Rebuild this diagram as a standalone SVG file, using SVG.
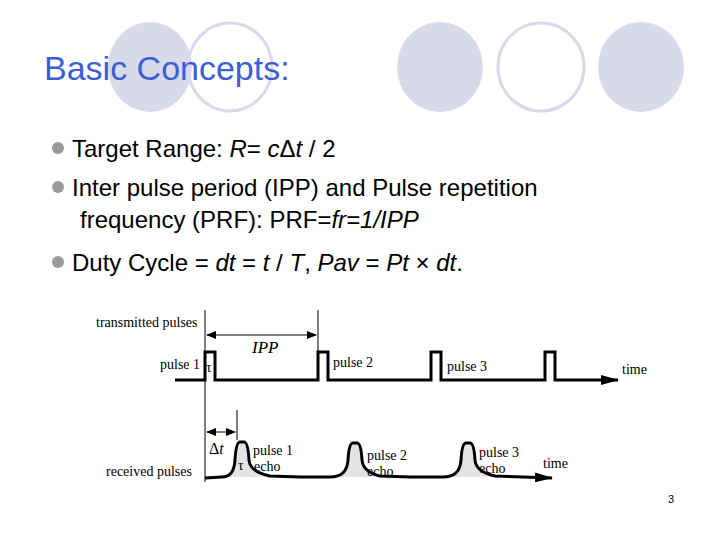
<svg xmlns="http://www.w3.org/2000/svg" width="720" height="540" viewBox="0 0 720 540">
<defs>
<marker id="ah" markerWidth="10" markerHeight="8" refX="9" refY="4" orient="auto-start-reverse" markerUnits="userSpaceOnUse"><path d="M0,0 L10,4 L0,8 Z" fill="#000"/></marker>
<marker id="big" markerWidth="18" markerHeight="10" refX="17" refY="5" orient="auto" markerUnits="userSpaceOnUse"><path d="M0,0 L18,5 L0,10 Z" fill="#000"/></marker>
</defs>
<style>
.fc{fill:#d9d9ec}
.oc{fill:none;stroke:#d9d9ec;stroke-width:3}
.t{font-family:"Liberation Sans",Arial,sans-serif;font-size:24px;fill:#000}
.s{font-family:"Liberation Serif","Times New Roman",serif;font-size:14px;fill:#000}
.w{fill:none;stroke:#000;stroke-width:3}
.thin{stroke:#000;stroke-width:1;fill:none}
</style>
<rect width="720" height="540" fill="#fff"/>
<g id="decor">
<ellipse class="fc" cx="150" cy="67" rx="42" ry="45"/>
<ellipse class="oc" cx="230" cy="67" rx="42" ry="44"/>
<ellipse class="fc" cx="440" cy="67" rx="43" ry="45"/>
<ellipse class="oc" cx="541" cy="67" rx="43" ry="44"/>
<ellipse class="fc" cx="641" cy="67" rx="43" ry="45"/>
</g>
<text x="44" y="80" font-family="Liberation Sans,Arial,sans-serif" font-size="34" fill="#3d5fd6">Basic Concepts:</text>
<g id="bullets" class="t">
<circle cx="58" cy="148" r="6" fill="#9a9a9a"/>
<text x="72" y="157">Target Range: <tspan font-style="italic">R</tspan>= <tspan font-style="italic">c</tspan>Δ<tspan font-style="italic">t</tspan> / 2</text>
<circle cx="58" cy="187" r="6" fill="#9a9a9a"/>
<text x="72" y="196">Inter pulse period (IPP) and Pulse repetition</text>
<text x="80" y="228">frequency (PRF): PRF=<tspan font-style="italic">fr=1/IPP</tspan></text>
<circle cx="58" cy="262" r="6" fill="#9a9a9a"/>
<text x="72" y="271">Duty Cycle = <tspan font-style="italic">dt</tspan> = <tspan font-style="italic">t</tspan> / <tspan font-style="italic">T</tspan>,  <tspan font-style="italic">Pav</tspan> = <tspan font-style="italic">Pt</tspan> × <tspan font-style="italic">dt</tspan>.</text>
</g>
<g id="connectors">
<path class="w" marker-end="url(#big)" d="M175,380 H205 V352 H215 V380 H318 V352 H328 V380 H431 V352 H441 V380 H545 V352 H555 V380 H618"/>
<line class="thin" x1="205" y1="310" x2="205" y2="482"/>
<line class="thin" x1="318" y1="310" x2="318" y2="352"/>
<line class="thin" x1="237" y1="410" x2="237" y2="440"/>
<line class="thin" x1="207" y1="335" x2="316" y2="335" marker-start="url(#ah)" marker-end="url(#ah)"/>
<line class="thin" x1="207" y1="432" x2="235" y2="432" marker-start="url(#ah)" marker-end="url(#ah)"/>
<path d="M222,477 Q234,477 235,460 Q236,442 240,442 H244 Q248,442 249,460 Q250,472 270,476 L300,477 H330 Q347,477 348,460 Q349,443 353,443 H357 Q361,443 362,460 Q363,472 380,476 L410,477 H443 Q460,477 461,460 Q462,443 466,443 H470 Q474,443 475,460 Q476,472 495,476 L525,477 Z" fill="#e3e3e3"/>
<path class="w" stroke-width="2" marker-end="url(#big)" d="M205,478 L222,477 Q234,477 235,460 Q236,442 240,442 H244 Q248,442 249,460 Q250,472 270,476 L300,477 H330 Q347,477 348,460 Q349,443 353,443 H357 Q361,443 362,460 Q363,472 380,476 L410,477 H443 Q460,477 461,460 Q462,443 466,443 H470 Q474,443 475,460 Q476,472 495,476 L552,478"/>
</g>
<g id="labels" class="s">
<text x="96" y="327">transmitted pulses</text>
<text x="160" y="369">pulse 1</text>
<text x="206" y="372">τ</text>
<text x="252" y="353" font-style="italic" font-size="17">IPP</text>
<text x="333" y="367">pulse 2</text>
<text x="447" y="371">pulse 3</text>
<text x="622" y="374">time</text>
<text x="209" y="454" font-size="16">Δ<tspan font-style="italic">t</tspan></text>
<text x="253" y="455">pulse 1</text>
<text x="238" y="470">τ</text>
<text x="254" y="471">echo</text>
<text x="367" y="460">pulse 2</text>
<text x="367" y="476">echo</text>
<text x="479" y="457">pulse 3</text>
<text x="479" y="473">echo</text>
<text x="543" y="468">time</text>
<text x="106" y="476">received pulses</text>
</g>
<text x="668" y="503" font-family="Liberation Sans,Arial,sans-serif" font-size="11">3</text>
</svg>
